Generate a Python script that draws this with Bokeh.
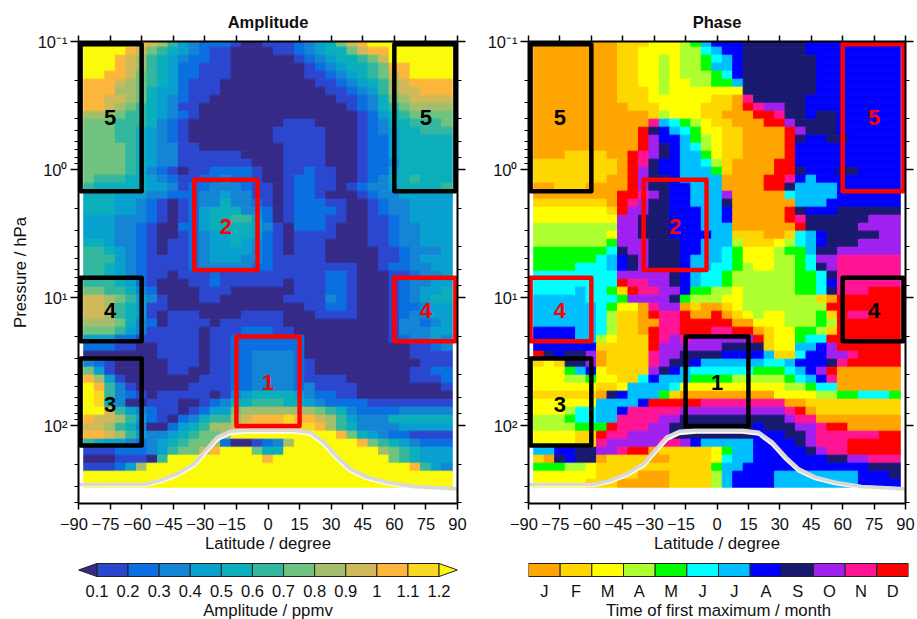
from bokeh.embed import file_html
from bokeh.resources import INLINE
from bokeh.plotting import figure
from bokeh.layouts import column, row
from bokeh.models import (ColumnDataSource, CustomLabelingPolicy, FixedTicker, LinearAxis, LogAxis, Range1d, Title)
from bokeh.core.properties import value

# ---------- data ----------
amp_codes = "abcdefghijklm"
amp_palette = ["#352A87", "#2B47CF", "#0A6FE0", "#1484D4", "#08A0CF", "#0BAFBB", "#32B79E",
               "#6FC27F", "#A4BE6C", "#D0B958", "#FDB63C", "#F8D820", "#FAFA0A"]
amp_rows = [
"mmmmmkjigedcccbaabbbcdefhjkmmmmmmmm", "mmmmkjhgfedcbbaaaabbcdeffhjkkmmmmmm", "mmmkjigfedccbbaaaaaabcdeffghjmmmmmm",
"mmmkjigfeccbbbaaaaaaabcdeffghkkmmmm", "mmkkjhgfeccbbbaaaaaaabbcdefghjkmmmm", "kkkjihgfecbbbaaaaaaaaabbcdefgijkkkk",
"kkkiihfeecbbbaaaaaaaaaabbcdegijjkkk", "kkjjihfedcbbaaaaaaaaaaaabbcdfhijjjj", "kkjihgfedbbaaaaaaaaaaaaaabcdfghiiii",
"iiihggfedcbaaaaaaaaaaaaaaabcefghhhh", "hhhgggfdcbaaaaaaaaabbbaaaabcdffgggh", "hhhggfedcbaaaaaaaabbbbbaaabcdeffggg",
"hhhggfedcbaaaaaaaabbbbbaaabccefffff", "hhhhgfeddbbaaaaaaaabbbbaaabccefffff", "hhhhgfeddbbbbbbaaaabbbbaaabccefffff",
"hhhhgfeddbbbbbbbaaabbbbaaabccdfffff", "hhhhgfdcbabbccccbaabbcbbaabccefffff", "hgggffedcbbccdccbaabccbbaabcdffgfff",
"gfffffeedbccdddcbbabccbbabcddeffffg", "fffeeeddcccddeddbbabccbaaabcddeeeee", "fffeedcbabcddfddcbabcccbbaabcddeeee",
"fffeedcbabcefffddcabccccbaabcddeeee", "eeedddcbabceffggecabcccbbaabbcdeeee", "eeeddcbaacceffffedbacccbaaabbcddeee",
"eeeddcbaabcdeeffecbabbbbaaabbcddeee", "ffeddcbabbcdeefedcbabbbaaaabbcddeee", "ggfedcbabbcdeeeedcbabbbaaaaabbcddde",
"gggedcbbbbcdeeeddcbbbbbaaaaabbcdeee", "ggfedcbbbbcdddddccbbbbbbbbaabccddee", "ggfedcbbabbbcbbbbbbbbbbccbaaabbcdde",
"gggfecbaaabbcbbbbbbabbbccbaaabcddee", "hhggfdcaaaabbbaaaaaabbbccbaaabcdeef", "jjihgedbaaabbaaaaaabbbbdcbaaabcdeff",
"jjigfebbaaaaaaaaaaaaabbccbaaabccdee", "jjigfebabbbaaaabbbbaaabbbbaaabcddee", "iiihfdcabbbbabbbbbbaaaaaaaaaabddcde",
"hhhgedbbbbbabbbcccbbaaaaaaaaabdddee", "eeeccbbbbbbabbcccccccaaaaaaaabcdded", "cccbbaabbbbabbcccccccaaaaaaaaaabbcd",
"aaaaaaabbbbabbccddddcaaaaaaaaaabbbb", "dcbaaaaabbbabbccddddcbaaaaaaaaaabbb", "hebaaaaabbaabbccddddcbaaaaaaaaabbcc",
"kiebaaaaaaabbbccddddcbbbbaaaaaabbbc", "mkgdbaaaaabbbbccddddcdbbbbaaaaaaaab", "mlgdcbabbbbbabdeffffedccbbaaaaaaaaa",
"mlfdaabbbaabcdffgggffedccccbbbbbbbb", "mmjgedcbbabceehiiiiiiihgfdccccddddd", "kjjigecbacdfggijkkklkkjigedddffffff",
"jjigfdaacefgiijkkkklllkigfddddeeeee", "kkjigeddefghhimmmmmmmmmmkhfedccbbbb", "gfeedcdefghhicaabcdimmmmmmkhgfedccc",
"bbbcccdeghhjkmmmhffmmmmmmmmmihgfeee", "aaabbbagmmmmmmmmmkmmmmmmmmmmmhgfeee", "bbbceimmmmmmmmmmmmmmmmmmmmmmmmmkged",
"mmmmmmmmmmmmmmmmmmmmmmmmmmmmmmmmmmm", "mmmmmmmmmmmmmmmmmmmmmmmmmmmmmmmmmmm",
]
phase_codes = "abcdefghijkl"
phase_palette = ["#FFA500", "#FFD700", "#FFFF00", "#ADFF2F", "#00FF00", "#00FFFF", "#00BFFF",
                 "#0000FF", "#191970", "#A020F0", "#FF1493", "#FF0000"]
phase_rows = [
"aaaaaaaabbbcccdeghhhiiiiiihhhhhhhhh", "aaaaaaaabbccccddfghhiiiiiihhhhhhhhh", "aaaaaaaabbccdcddefghiiiiiiihhhhhhhh",
"aaaaaaaabbccdcddegghiiiiiiihhhhhhhh", "aaaaaaaabbccdcdddefhiiiiiiihhhhhhhh", "aaaaaaaabbccdccddeegiiiiiiihhhhhhhh",
"aaaaaaaabbbcdccccccciiiiiiihhhhhhhh", "aaaaaaaabbbccccccbbakiiiiihhhhhhhhh", "aaaaaaaaabbbccccbbbalkjjiihhhhhhhhh",
"aaaaaaaaaaabdcccbbaaallkiihiihhhhhh", "aaaaaaaaaaakgfedcbbaaalljiiiihhhhhh", "aaaaaaaaaalihgfeccbbaaaaljiiihhhhhh",
"aaaaaaaaaaljhhgedcbbaaaalihhiihhhhh", "aaaaaaaaaaljihgfdcbbaaaalhhhhhhhhhh", "aaabbbbaalkjihggecbbaaaalhhhhhhhhhh",
"bbbbbbbbalkihhggfdbaaaallhhhhhhhhhh", "bbbbbbbbaljihhgggebaaaallihhhiihhhh", "bbbbbbbaaljiihggggaaaallkhghhhhhhhh",
"aabbbaaaaljiihhgggaaaalligggghhhhhh", "aaaaaaaallkjihhgggjaaaaafgggghhhhhh", "bbbbbbbalkjiihhgggiaaaaaaggghhhhhhh",
"cccccccbljjiihhhgghaaaaalihhhiiiiii", "ccccccccjjiiihhhgghaaaaalkiiiiiijjj", "ddddddddjjiiihhhgggaaaaaaliiiiijjjj",
"dddddddcjjiiihhhhggbbbaabfghiiiiijj", "dddddddejjjiiihhgggdbbbcdfghiiijjjj", "eeeeeeefijjiiihhggfecccdeegiijjjjjj",
"eeeeeefghijiiihgggfecccddefjjkkkkkk", "eeeefffghijiiihggffedccddefijkkkkkk", "ffffffffjjjjjihgffeddddddeefikkkkkk",
"fffffffflkkjjihgffeddddddeefhkkkkkk", "ffffgffeblkkjjheeddcdddddeefikkklll",
"gggggfffejjjjiedddccdddddddballllll", "ggggggfeccakjjabaabcddddddddlllllll", "ggggggfdbbalkklaalabcdccdddeblkklll",
"ggggggfdbbaakklllllaacccdddedllllll", "hhhhggfdbbalkklllkkllabcceedbllllll", "hhhhggdcbbblkjkjjjjjjlbcceffllllll"+"l",
"hhhhhhbbbbbljjjjjjiiiibccgghjllllll", "lihiijabbbbkjjiiiihhhhgbbfhhjjkllll", "bcbiijabbbbkjiihggggggffghhhiklllll",
"ccceghcbbbbjihgffffffeeefghjlaaaaaa", "cccddeccbbfhgggeeeedddddefghkaaaaaa", "ccccccbbcggggfccccccccccddeffaaaaaa",
"bbbbbbaihgggebaaaaaaaaaccccddeefffe", "ccccccgggghlllllkkkkkkkkaabbbbbbbbb", "cccdffgghkkkkkjjjjjjjjjjklabbbbbbbb",
"dddeffggkkkkjjiiiiiiiiiijkkaaaaaaaa", "ddddeeelkkkjjiiiiiiiihiiijjkllaaaaa", "ccccbblkkjjjjiiiiiiiihhhiijkkkkkkll",
"ccccbbkjjjjjkkjhggggghhhhijkkklllll", "gghhiijjkllabbbbbcegghhhhhijkklllll", "baihiiabbbbaabbbbcfgghhhhhhhiijjkkk",
"eeeddcbbbbbbbbbbbegghhhhhhhhhhhhiii", "ccccccbbbbaaabbbbdghhhhgggggggghhhi", "cccccbbbaaaaabbbbdghhhhgggggggghhhh",
]
lat_first_edge = -87.5
lat_step = 5.0
log_p_bottom = 2.4816
log_p_step = 1 / 16

tropo_lat = [-90, -59, -51, -43, -35, -29, -24, -18, -10, 12, 20, 26.5, 33, 39, 47, 56.5, 69, 90]
tropo_p = [289, 289, 268, 238, 199, 152, 123, 111, 109, 109, 113, 135, 177, 218, 253, 277, 299, 312]
tropo2_p = [292, 293, 274, 244, 205, 158, 128, 115, 112, 112, 116, 140, 183, 225, 259, 283, 303, 316]

box_lat0 = [-89, 60, -35, -89, 60, -15, -89]
box_lat1 = [-60, 89, -5, -60, 89, 15, -60]
box_p0 = [0.105, 0.105, 1.2, 7.0, 7.0, 20.2, 30]
box_p1 = [1.48, 1.48, 6.1, 22, 22, 101, 143]
box_label = ["5", "5", "2", "4", "4", "1", "3"]
label_lat = [-75, 75, -20, -75, 75, 0, -75]
label_p = [0.39, 0.39, 2.77, 12.6, 12.6, 46, 68]
amp_box_color = ["black", "black", "red", "black", "red", "red", "black"]
phase_box_color = ["black", "red", "red", "red", "black", "black", "black"]

lat_ticks = [-90, -75, -60, -45, -30, -15, 0, 15, 30, 45, 60, 75, 90]
lat_labels = {t: (str(t).replace("-", "\u2212") + "\u2007" if t < 0 else str(t)) for t in lat_ticks}
p_labels = {0.1: "10\u207b\u00b9", 1: "10\u2070", 10: "10\u00b9", 100: "10\u00b2"}
amp_levels = [0.1, 0.2, 0.3, 0.4, 0.5, 0.6, 0.7, 0.8, 0.9, 1.0, 1.1, 1.2]
amp_level_labels = ["0.1", "0.2", "0.3", "0.4", "0.5", "0.6", "0.7", "0.8", "0.9", "1", "1.1", "1.2"]
months = ["J", "F", "M", "A", "M", "J", "J", "A", "S", "O", "N", "D"]

FONT = "Liberation Sans"
FS = "16.5px"
FT = "16.8px"
INK = "#111111"


def no_labels():
    return CustomLabelingPolicy(code="for (let i = 0; i < indices.size; i++) indices.unset(i); return indices;")


def cell_source(rows, codes, palette):
    d = dict(left=[], right=[], top=[], bottom=[], color=[])
    n = len(rows)
    for r, s in enumerate(rows):
        bottom = 10 ** (log_p_bottom - (n - 1 - r) * log_p_step)
        top = 10 ** (log_p_bottom - (n - r) * log_p_step)
        c = 0
        while c < len(s):
            e = c
            while e < len(s) and s[e] == s[c]:
                e += 1
            d["left"].append(lat_first_edge + c * lat_step)
            d["right"].append(lat_first_edge + e * lat_step)
            d["top"].append(top)
            d["bottom"].append(bottom)
            d["color"].append(palette[codes.index(s[c])])
            c = e
    return ColumnDataSource(d)


def style_lin(ax, labels=True):
    ax.ticker = FixedTicker(ticks=lat_ticks)
    ax.axis_line_width = 2
    ax.axis_line_color = "black"
    ax.major_tick_line_color = "black"
    ax.major_tick_line_width = 1.5
    ax.major_tick_out = 6
    ax.major_tick_in = 0
    ax.minor_tick_line_color = None
    ax.major_label_text_font = FONT
    ax.major_label_text_color = INK
    if labels:
        ax.major_label_text_font_size = FS
        ax.major_label_overrides = lat_labels
        ax.major_label_standoff = 5
    else:
        ax.major_label_text_font_size = "1px"
        ax.major_label_policy = no_labels()
        ax.major_label_standoff = 0


def style_log(ax, labels=True):
    ax.axis_line_width = 2
    ax.axis_line_color = "black"
    ax.major_tick_line_color = "black"
    ax.minor_tick_line_color = "black"
    ax.major_tick_line_width = 1.5
    ax.minor_tick_line_width = 1.2
    ax.major_tick_out = 8
    ax.major_tick_in = 0
    ax.minor_tick_out = 4
    ax.minor_tick_in = 0
    ax.major_label_text_font = FONT
    ax.major_label_text_color = INK
    ax.major_label_overrides = p_labels
    if labels:
        ax.major_label_text_font_size = FS
        ax.major_label_standoff = 3
    else:
        ax.major_label_text_font_size = "1px"
        ax.major_label_policy = no_labels()
        ax.major_label_standoff = 0


def panel(title, rows, codes, palette, box_color, width, left, right, ylabel):
    p = figure(width=width, height=560, x_range=Range1d(-90, 90), y_range=Range1d(406.6, 0.1),
               y_axis_type="log", output_backend="svg", toolbar_location=None,
               min_border_left=left, min_border_right=right, min_border_top=41, min_border_bottom=57)
    p.grid.visible = False
    p.outline_line_color = None
    p.background_fill_color = "white"
    p.title = Title(text=title, align="center", text_font=FONT, text_font_style="bold", text_font_size="16.5px",
                    text_color=INK, offset=0, standoff=2)
    p.quad(left="left", right="right", top="top", bottom="bottom", fill_color="color", line_color="color",
           line_width=1, source=cell_source(rows, codes, palette))
    p.line(tropo_lat, tropo2_p, line_color="#FBFBF0", line_width=4)
    p.line(tropo_lat, tropo_p, line_color="#D8D8D8", line_width=3.5)
    p.quad(left=box_lat0, right=box_lat1, top=box_p0, bottom=box_p1, fill_color=None,
           line_color=box_color, line_width=4.5, line_join="round")
    p.text(label_lat, label_p, text=box_label, text_color=box_color, text_align="center", text_baseline="middle",
           text_font=value(FONT), text_font_style="bold", text_font_size="22px")
    style_lin(p.xaxis[0])
    p.xaxis[0].axis_label = "Latitude / degree"
    p.xaxis[0].axis_label_text_font = FONT
    p.xaxis[0].axis_label_text_font_size = FT
    p.xaxis[0].axis_label_text_font_style = "normal"
    p.xaxis[0].axis_label_text_color = INK
    p.xaxis[0].axis_label_standoff = -2
    style_log(p.yaxis[0])
    if ylabel:
        p.yaxis[0].axis_label = ylabel
        p.yaxis[0].axis_label_text_font = FONT
        p.yaxis[0].axis_label_text_font_size = FT
        p.yaxis[0].axis_label_text_font_style = "normal"
        p.yaxis[0].axis_label_text_color = INK
        p.yaxis[0].axis_label_standoff = 5
    ax_top = LinearAxis()
    style_lin(ax_top, labels=False)
    p.add_layout(ax_top, "above")
    ax_right = LogAxis()
    style_log(ax_right, labels=False)
    p.add_layout(ax_right, "right")
    return p


def bar_fig(width, left, right, xr, tick_pos, tick_text, title):
    # the frame spans the whole strip; the bar itself is y 0..1
    bar_px = 13.0
    f = figure(width=width, height=59, x_range=xr, y_range=Range1d(-43 / bar_px, 1 + 3 / bar_px),
               output_backend="svg", toolbar_location=None, min_border_left=left, min_border_right=right,
               min_border_top=0, min_border_bottom=0)
    f.grid.visible = False
    f.outline_line_color = None
    f.axis.visible = False
    f.text(tick_pos, [-14 / bar_px] * len(tick_pos), text=tick_text, text_align="center", text_baseline="middle",
           text_font=value(FONT), text_font_size=FS, text_color=INK)
    f.text([(xr.start + xr.end) / 2], [-34 / bar_px], text=[title], text_align="center", text_baseline="middle",
           text_font=value(FONT), text_font_size=FT, text_color=INK)
    return f


# ---------- colour bars ----------
cb1 = bar_fig(470, 78, 13, Range1d(0.0407, 1.2593), amp_levels, amp_level_labels, "Amplitude / ppmv")
cb1.quad(left=amp_levels[:-1], right=amp_levels[1:], top=1, bottom=0, fill_color=amp_palette[1:-1],
         line_color="#222222", line_width=1)
cb1.patch([amp_levels[0], 0.0407, amp_levels[0]], [0, 0.5, 1], fill_color=amp_palette[0], line_color="#222222", line_width=1)
cb1.patch([amp_levels[-1], 1.2593, amp_levels[-1]], [0, 0.5, 1], fill_color=amp_palette[-1], line_color="#222222", line_width=1)

month_pos = [i + 0.5 for i in range(12)]
cb2 = bar_fig(447, 58, 9, Range1d(0, 12), month_pos, months, "Time of first maximum / month")
cb2.quad(left=list(range(12)), right=list(range(1, 13)), top=1, bottom=0, fill_color=phase_palette,
         line_color="#222222", line_width=1)

# ---------- panels ----------
p1 = panel("Amplitude", amp_rows, amp_codes, amp_palette, amp_box_color, 470, 78, 13, "Pressure / hPa")
p2 = panel("Phase", phase_rows, phase_codes, phase_palette, phase_box_color, 447, 58, 9, None)

layout = column(row(p1, p2, spacing=0), row(cb1, cb2, spacing=0), spacing=0)
open("out.html", "w").write(file_html(layout, INLINE))
